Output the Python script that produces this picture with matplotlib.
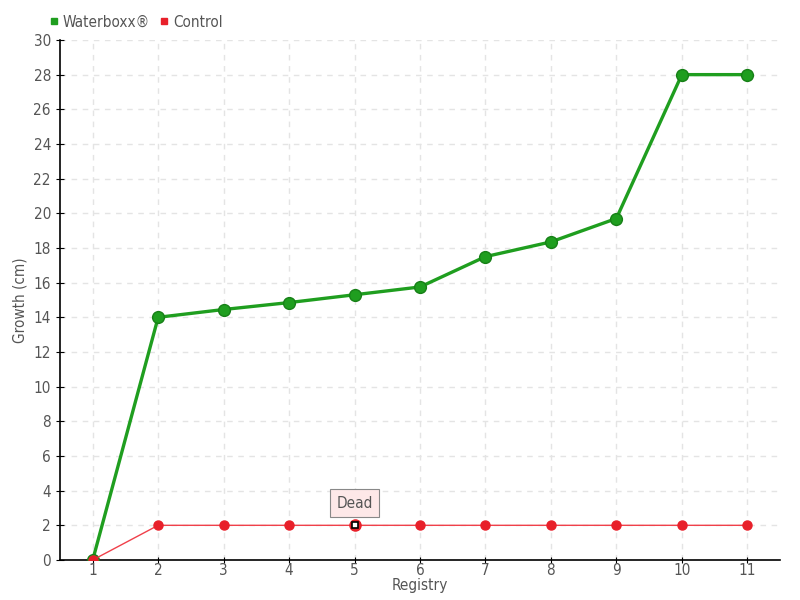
import numpy as np
import matplotlib
matplotlib.use("Agg")
import matplotlib.pyplot as plt
from matplotlib.lines import Line2D

# data
registry = [1, 2, 3, 4, 5, 6, 7, 8, 9, 10, 11]
waterboxx = [0, 14, 14.45, 14.85, 15.3, 15.75, 17.5, 18.35, 19.7, 28, 28]
control = [0, 2, 2, 2, 2, 2, 2, 2, 2, 2, 2]
dead_idx = 4  # registry 5

plt.rcParams['font.family'] = ['DejaVu Sans']
plt.rcParams['font.stretch'] = 'condensed'
txt = '#555555'
green = '#1f9e1f'
red = '#e8202a'

fig = plt.figure(figsize=(8, 6), dpi=100)
ax = fig.add_axes([0.075, 0.0667, 0.9, 0.8667])

ax.plot(registry, waterboxx, color=green, lw=2.4, marker='o', ms=8.5,
        mfc=green, mec='#178017', zorder=3)
ax.plot(registry, control, color='#f0404a', lw=1, marker='o', ms=6.5,
        mfc=red, mec=red, zorder=4)
ax.plot(registry[dead_idx], control[dead_idx], marker='o', ms=8,
        mfc=red, mec=red, zorder=5)
ax.plot(registry[dead_idx], control[dead_idx], marker='s', ms=4.5,
        mfc='white', mec='black', mew=1.2, zorder=6)

ax.annotate('Dead', xy=(registry[dead_idx], control[dead_idx]),
            xytext=(0, 16), textcoords='offset points', ha='center',
            va='center', fontsize=11, color=txt,
            bbox=dict(boxstyle='square,pad=0.4', fc='#fde8e8', ec='#888888', lw=0.8))

ax.set_xlim(0.5, 11.5)
ax.set_ylim(0, 30)
ax.set_xticks(registry)
ax.set_yticks(np.arange(0, 31, 2))
ax.grid(True, color='#e4e4e4', ls=(0, (4, 4)), lw=1)
ax.set_axisbelow(True)
for s in ['top', 'right']:
    ax.spines[s].set_visible(False)
for s in ['left', 'bottom']:
    ax.spines[s].set_linewidth(1.2)
ax.tick_params(axis='y', direction='inout', length=6, labelsize=11, labelcolor=txt)
ax.tick_params(axis='x', direction='inout', length=5, labelsize=11, labelcolor=txt, pad=0)
ax.set_xlabel('Registry', color=txt, fontsize=11, labelpad=0)
ax.set_ylabel('Growth (cm)', color=txt, fontsize=11, labelpad=4)

handles = [Line2D([], [], ls='none', marker='s', ms=5, color=green),
           Line2D([], [], ls='none', marker='s', ms=5, color=red)]
leg = fig.legend(handles, ['Waterboxx\u00ae', 'Control'], loc='center left',
                 bbox_to_anchor=(0.052, 0.963), ncol=2, frameon=False,
                 fontsize=11, handlelength=0.6, handletextpad=0.3,
                 columnspacing=0.6, borderpad=0)
for t in leg.get_texts():
    t.set_color(txt)

fig.savefig('out.png', dpi=100)
